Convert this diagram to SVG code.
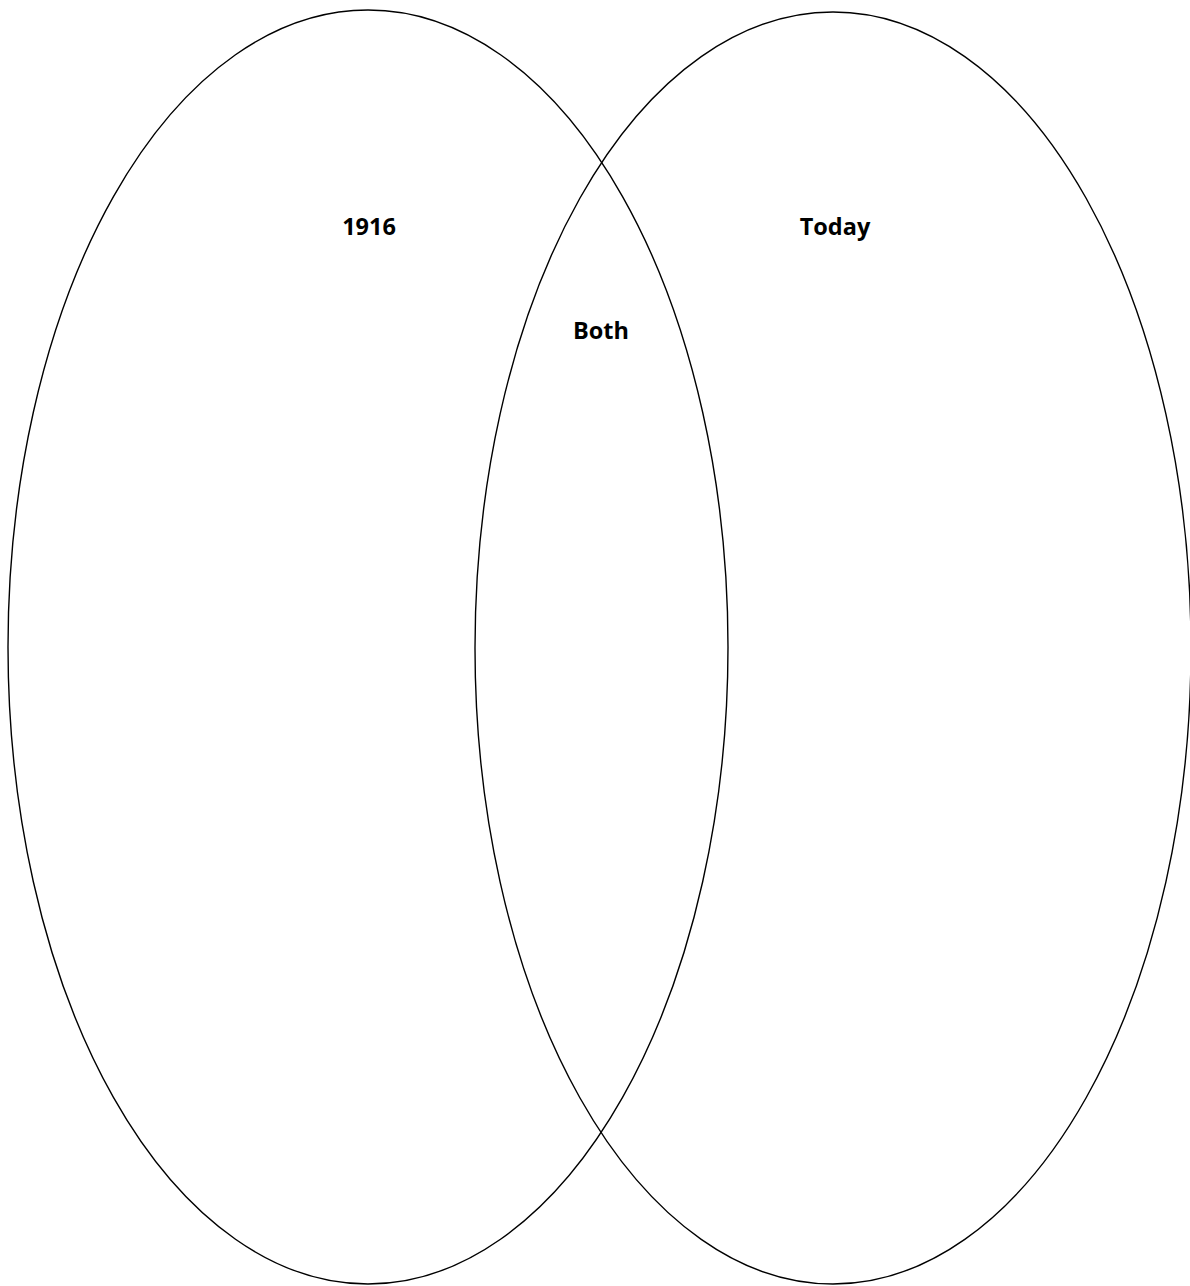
<svg xmlns="http://www.w3.org/2000/svg" width="1190" height="1286" viewBox="0 0 1190 1286">
<style>
.ell{fill:none;stroke:#000;stroke-width:1.4}
.lbl{font-family:"Open Sans","Liberation Sans",sans-serif;font-weight:bold;font-size:23.5px;fill:#000;text-anchor:middle}
</style>
<rect width="1190" height="1286" fill="#fff"/>
<g id="set-1916">
<ellipse class="ell" cx="368" cy="647" rx="360" ry="637"/>
<text class="lbl" x="369" y="235">1916</text>
</g>
<g id="set-today">
<ellipse class="ell" cx="833" cy="648" rx="358" ry="636"/>
<text class="lbl" x="835" y="235">Today</text>
</g>
<g id="set-both">
<text class="lbl" x="601" y="339">Both</text>
</g>
<g id="connectors"></g>
</svg>
